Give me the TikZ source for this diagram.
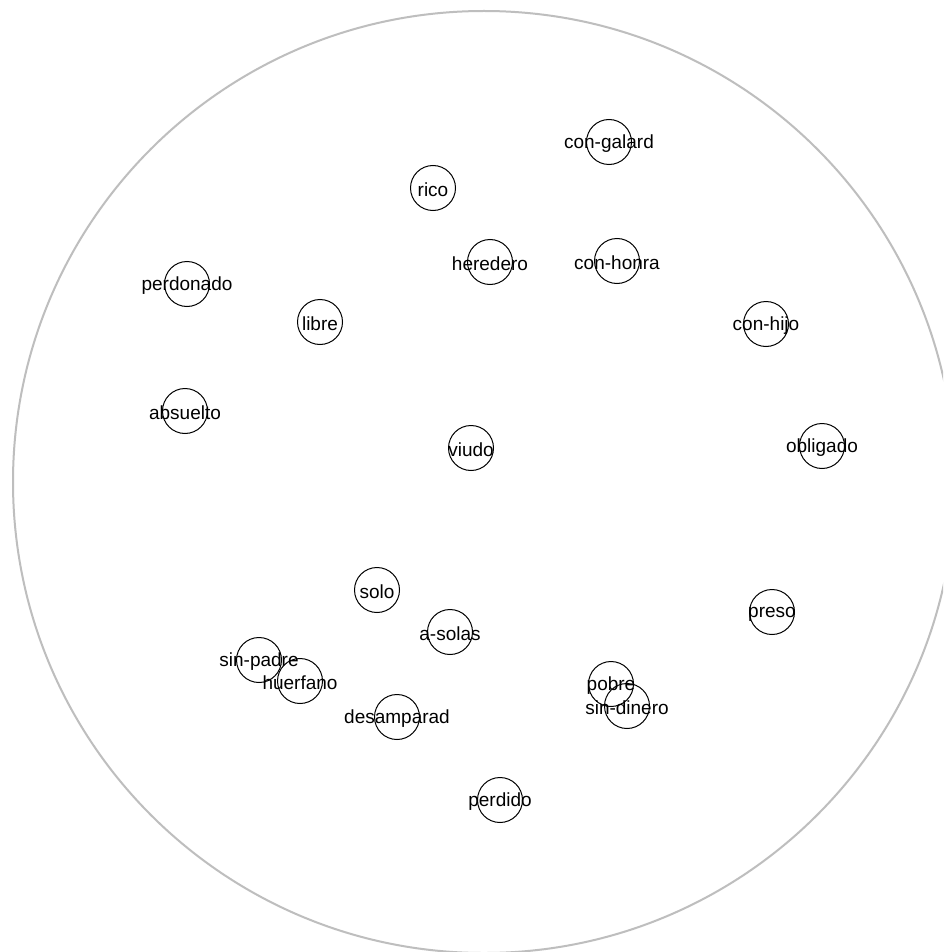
\documentclass[tikz,border=0pt]{standalone}
\usepackage{fontspec}
\setmainfont{Liberation Sans}
\begin{document}
\begin{tikzpicture}[x=1pt,y=-1pt,
  vtx/.style={circle,draw=black,line width=1pt,minimum size=45pt,inner sep=0pt},
  lbl/.style={inner sep=0pt,font=\fontsize{19}{19}\selectfont,yshift=-2pt},
  outer/.style={draw={rgb,255:red,190;green,190;blue,190},line width=2pt}]
\useasboundingbox (0,0) rectangle (943,952);
\clip (0,0) rectangle (943,952);
\fill[white] (0,0) rectangle (943,952);
\node[circle,outer,minimum size=942pt,inner sep=0pt] (ring) at (484,482) {};
\newcommand{\myvtx}[3]{\node[vtx] (#1) at (#2) {}; \node[lbl] (#1-t) at (#2) {#3};}
\myvtx{rico}{433,188}{rico}
\myvtx{congalard}{609,142}{con-galard}
\myvtx{heredero}{490,262}{heredero}
\myvtx{conhonra}{617,261}{con-honra}
\myvtx{perdonado}{187,284}{perdonado}
\myvtx{libre}{320,322}{libre}
\myvtx{conhijo}{766,324}{con-hijo}
\myvtx{absuelto}{185,411}{absuelto}
\myvtx{viudo}{471,448}{viudo}
\myvtx{obligado}{822,446}{obligado}
\myvtx{solo}{377,590}{solo}
\myvtx{preso}{772,612}{preso}
\myvtx{asolas}{450,632}{a-solas}
\myvtx{sinpadre}{259,660}{sin-padre}
\myvtx{huerfano}{300,681}{huerfano}
\myvtx{pobre}{611,684}{pobre}
\myvtx{sindinero}{627,706}{sin-dinero}
\myvtx{desamparad}{397,717}{desamparad}
\myvtx{perdido}{500,800}{perdido}
\end{tikzpicture}
\end{document}
